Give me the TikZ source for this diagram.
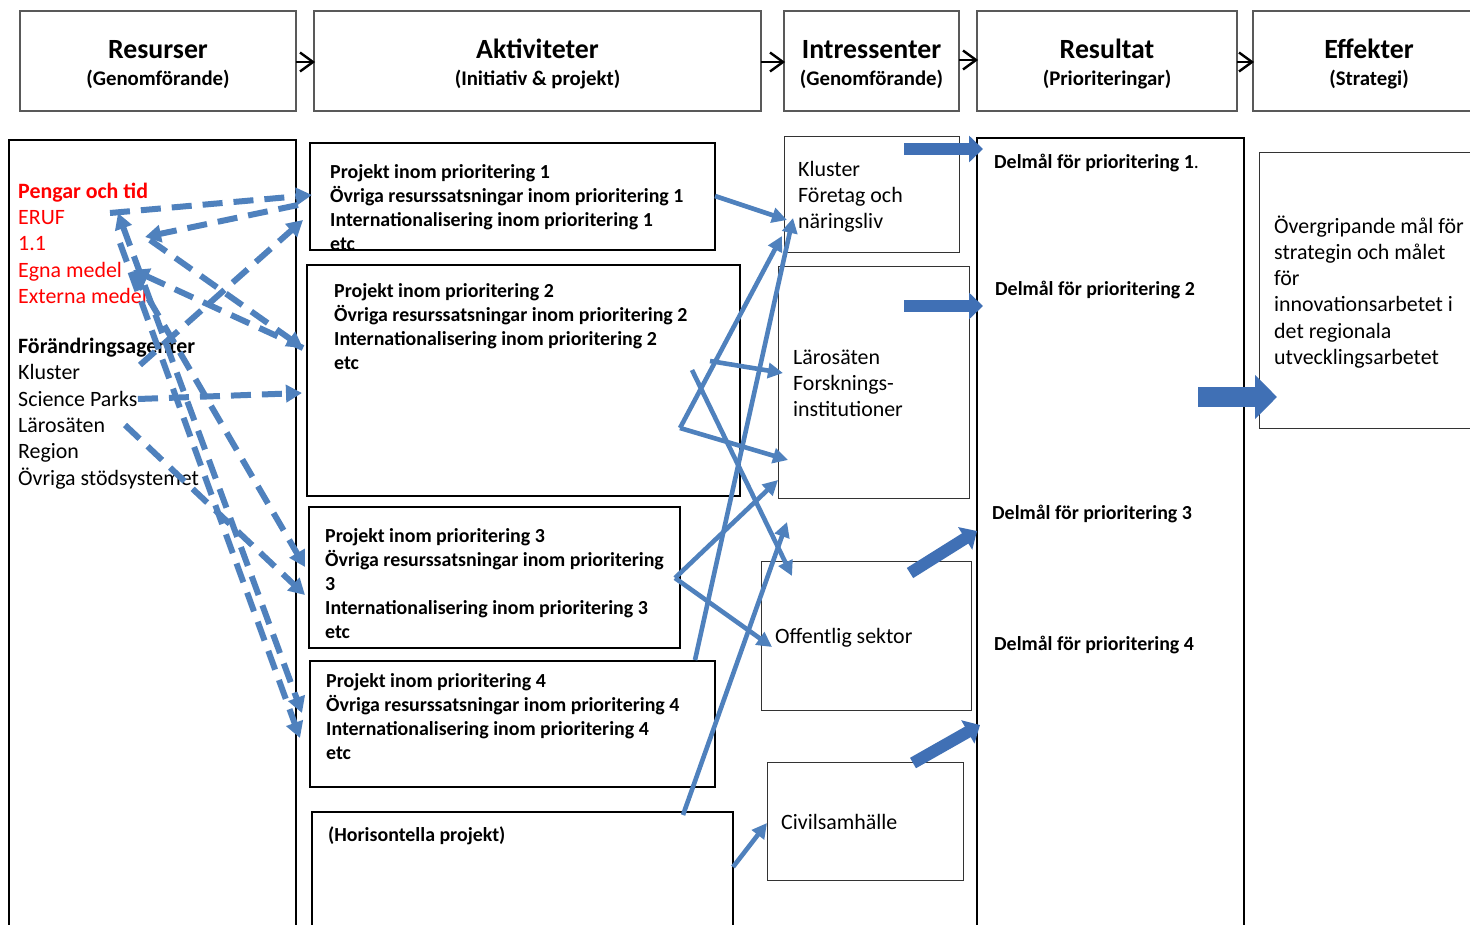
\documentclass[tikz,border=0pt]{standalone}
\usepackage{fontspec}
\setmainfont{Carlito}
\usetikzlibrary{arrows.meta,calc}
\definecolor{lblue}{RGB}{79,129,189}
\definecolor{bblue}{RGB}{64,112,181}
\definecolor{tred}{RGB}{255,0,0}
\begin{document}
\begin{tikzpicture}[x=1pt,y=-1pt,
  hbox/.style={draw=black!65, line width=1.3pt, anchor=north west, inner sep=0, outer sep=0},
  pbox/.style={draw=black, line width=2pt, anchor=north west, inner sep=0, outer sep=0},
  ibox/.style={draw=black!80, line width=1pt, anchor=north west, inner sep=0, outer sep=0},
  htitle/.style={font=\fontsize{27.8}{30}\selectfont\bfseries, anchor=base, inner sep=0},
  hsub/.style={font=\fontsize{20.8}{24}\selectfont\bfseries, anchor=base, inner sep=0},
  lt/.style={font=\fontsize{21.9}{26}\selectfont, anchor=base west, inner sep=0},
  pt/.style={font=\fontsize{19.9}{24}\selectfont\bfseries, anchor=base west, inner sep=0},
  darr/.style={draw=lblue, line width=6pt, dash pattern=on 20pt off 11pt, -{Triangle[length=16pt,width=17pt]}},
  sarr/.style={draw=lblue, line width=4.6pt, -{Triangle[length=15pt,width=15pt]}},
  barr/.style={draw=bblue, line width=12pt, -{Triangle[length=14pt,width=26pt]}},
  hline/.style={draw=black, line width=2.4pt, line join=miter},
]
\useasboundingbox[fill=white] (0,0) rectangle (1470,924);

% header boxes
\node[hbox, minimum width=276pt, minimum height=100pt] (hres) at (20,11) {};
\node[hbox, minimum width=447pt, minimum height=100pt] (hakt) at (314,11) {};
\node[hbox, minimum width=175pt, minimum height=100pt] (hint) at (784,11) {};
\node[hbox, minimum width=260pt, minimum height=100pt] (hrsl) at (977,11) {};
\node[hbox, minimum width=240pt, minimum height=100pt] (heff) at (1253,11) {};

\node[htitle] (t1) at (158,58) {Resurser};
\node[hsub] (s1) at (158,85) {(Genomförande)};
\node[htitle] (t2) at (537.5,58) {Aktiviteter};
\node[hsub] (s2) at (537.5,85) {(Initiativ \& projekt)};
\node[htitle] (t3) at (871.5,58) {Intressenter};
\node[hsub] (s3) at (871.5,85) {(Genomförande)};
\node[htitle] (t4) at (1107,58) {Resultat};
\node[hsub] (s4) at (1107,85) {(Prioriteringar)};
\node[htitle] (t5) at (1369,58) {Effekter};
\node[hsub] (s5) at (1369,85) {(Strategi)};

% header connectors with open chevrons
\coordinate (h1a) at (hres.east |- 0,62);
\coordinate (h1b) at ($(hakt.west |- 0,62)+(-1,0)$);
\coordinate (h2a) at (hakt.east |- 0,62);
\coordinate (h2b) at ($(hint.west |- 0,62)+(-1,0)$);
\coordinate (h3a) at (hint.east |- 0,60);
\coordinate (h3b) at ($(hrsl.west |- 0,60)+(-1,0)$);
\coordinate (h4a) at (hrsl.east |- 0,62);
\coordinate (h4b) at ($(heff.west |- 0,62)+(-1,0)$);
\foreach \a/\b in {h1a/h1b,h2a/h2b,h3a/h3b,h4a/h4b}{
  \draw[hline] (\a) -- (\b);
  \draw[hline] ($(\b)+(-13,-9.5)$) -- (\b) -- ($(\b)+(-13,9.5)$);
}

% main boxes
\node[pbox, minimum width=287pt, minimum height=800pt] (res) at (9,140) {};
\node[pbox, minimum width=405pt, minimum height=107pt] (p1) at (310,143) {};
\node[pbox, minimum width=433pt, minimum height=231pt] (p2) at (307,265) {};
\node[pbox, minimum width=371pt, minimum height=141pt] (p3) at (309,507) {};
\node[pbox, minimum width=405pt, minimum height=126pt] (p4) at (310,661) {};
\node[pbox, minimum width=421pt, minimum height=130pt] (p5) at (312,812) {};
\node[ibox, minimum width=175pt, minimum height=116pt] (i1) at (784,136) {};
\node[ibox, minimum width=191pt, minimum height=232pt] (i2) at (778,266) {};
\node[ibox, minimum width=210pt, minimum height=149pt] (i3) at (761,561) {};
\node[ibox, minimum width=196pt, minimum height=118pt] (i4) at (767,762) {};
\node[pbox, minimum width=267pt, minimum height=800pt] (rsl) at (977,138) {};
\node[ibox, minimum width=230pt, minimum height=276pt] (eff) at (1259,152) {};

% left texts
\node[lt, text=tred, font=\fontsize{21.9}{26}\selectfont\bfseries] (r1) at (18,198) {Pengar och tid};
\node[lt, text=tred] (r2) at (18,224) {ERUF};
\node[lt, text=tred] (r3) at (18,250) {1.1};
\node[lt, text=tred] (r4) at (18,277) {Egna medel};
\node[lt, text=tred] (r5) at (18,303) {Externa medel};
\node[lt, font=\fontsize{21.9}{26}\selectfont\bfseries] (r6) at (18,353) {Förändringsagenter};
\node[lt] (r7) at (18,379) {Kluster};
\node[lt] (r8) at (18,406) {Science Parks};
\node[lt] (r9) at (18,432) {Lärosäten};
\node[lt] (r10) at (18,458) {Region};
\node[lt] (r11) at (18,485) {Övriga stödsystemet};

% project texts
\node[pt] (a11) at (330,178) {Projekt inom prioritering 1};
\node[pt] (a12) at (330,202) {Övriga resurssatsningar inom prioritering 1};
\node[pt] (a13) at (330,226) {Internationalisering inom prioritering 1};
\node[pt] (a14) at (330,250) {etc};
\node[pt] (a21) at (334,297) {Projekt inom prioritering 2};
\node[pt] (a22) at (334,321) {Övriga resurssatsningar inom prioritering 2};
\node[pt] (a23) at (334,345) {Internationalisering inom prioritering 2};
\node[pt] (a24) at (334,369) {etc};
\node[pt] (a31) at (325,542) {Projekt inom prioritering 3};
\node[pt] (a32) at (325,566) {Övriga resurssatsningar inom prioritering};
\node[pt] (a33) at (325,590) {3};
\node[pt] (a34) at (325,614) {Internationalisering inom prioritering 3};
\node[pt] (a35) at (325,638) {etc};
\node[pt] (a41) at (326,687) {Projekt inom prioritering 4};
\node[pt] (a42) at (326,711) {Övriga resurssatsningar inom prioritering 4};
\node[pt] (a43) at (326,735) {Internationalisering inom prioritering 4};
\node[pt] (a44) at (326,759) {etc};
\node[pt] (a51) at (328,841) {(Horisontella projekt)};

% stakeholders
\node[lt] (k1) at (798,176) {Kluster};
\node[lt] (k2) at (798,202) {Företag och};
\node[lt] (k3) at (798,228) {näringsliv};
\node[lt] (l1) at (793,364) {Lärosäten};
\node[lt] (l2) at (793,390) {Forsknings-};
\node[lt] (l3) at (793,416) {institutioner};
\node[lt] (o1) at (775,643) {Offentlig sektor};
\node[lt] (c1) at (781,829) {Civilsamhälle};

% results
\node[pt] (m1) at (994,168) {Delmål för prioritering 1\mdseries.};
\node[pt] (m2) at (995,295) {Delmål för prioritering 2};
\node[pt] (m3) at (992,519) {Delmål för prioritering 3};
\node[pt] (m4) at (994,650) {Delmål för prioritering 4};

% effects
\node[lt] (e1) at (1274,233) {Övergripande mål för};
\node[lt] (e2) at (1274,259) {strategin och målet};
\node[lt] (e3) at (1274,285) {för};
\node[lt] (e4) at (1274,311) {innovationsarbetet i};
\node[lt] (e5) at (1274,338) {det regionala};
\node[lt] (e6) at (1274,364) {utvecklingsarbetet};

% coordinates for dashed connectors
\coordinate (eruf) at (110,213);
\coordinate (erufb) at (118,213);
\coordinate (ett) at (145,237);
\coordinate (ettb) at (150,240);
\coordinate (ettc) at (120,243);
\coordinate (egna) at (133,270);
\coordinate (egnab) at (133,272);
\coordinate (forv) at (140,365);
\coordinate (scip) at (138,399);
\coordinate (laro) at (125,425);
\coordinate (p1a) at (312,195);
\coordinate (p1b) at (298,205);
\coordinate (p1c) at (303,220);
\coordinate (p2a) at (303,348);
\coordinate (p2b) at (302,393);
\coordinate (p3a) at (305,567);
\coordinate (p3b) at (305,595);
\coordinate (p4a) at (302,713);
\coordinate (p4b) at (300,738);

\draw[darr] (eruf) -- (p1a);
\draw[darr] (p1b) -- (ett);
\draw[darr] (ettb) -- (p2a);
\draw[darr, {Triangle[length=16pt,width=17pt]}-] (egna) -- (p2a);
\draw[darr] (forv) -- (p1c);
\draw[darr] (scip) -- (p2b);
\draw[darr] (laro) -- (p3b);
\draw[darr] (egnab) -- (p3a);
\draw[darr, {Triangle[length=16pt,width=17pt]}-{Triangle[length=16pt,width=17pt]}] (erufb) -- (p4a);
\draw[darr] (ettc) -- (p4b);

% coordinates for solid connectors
\coordinate (q1) at (715,196);
\coordinate (q2) at (680,428);
\coordinate (q3) at (710,361);
\coordinate (q4) at (692,370);
\coordinate (q5) at (695,660);
\coordinate (q6) at (675,578);
\coordinate (q7) at (683,815);
\coordinate (q8) at (733,867);
\coordinate (k1a) at (787,220);
\coordinate (k1b) at (782,236);
\coordinate (k1c) at (793,218);
\coordinate (l1a) at (783,373);
\coordinate (l1b) at (788,460);
\coordinate (l1c) at (778,480);
\coordinate (l1d) at (787,522);
\coordinate (o1a) at (792,576);
\coordinate (o1b) at (772,647);
\coordinate (c1a) at (767,823);

\draw[sarr] (q1) -- (k1a);
\draw[sarr] (q2) -- (k1b);
\draw[sarr] (q2) -- (l1b);
\draw[sarr] (q3) -- (l1a);
\draw[sarr] (q4) -- (o1a);
\draw[sarr] (q5) -- (k1c);
\draw[sarr] (q6) -- (l1c);
\draw[sarr] (q6) -- (o1b);
\draw[sarr] (q7) -- (l1d);
\draw[sarr] (q8) -- (c1a);

% block arrows
\coordinate (b1s) at (904,149);
\coordinate (b1e) at (983,149);
\coordinate (b2s) at (904,306);
\coordinate (b2e) at (983,306);
\coordinate (b3s) at (910,573);
\coordinate (b3e) at (977,531);
\coordinate (b4s) at (913,763);
\coordinate (b4e) at (980,725);
\coordinate (b5s) at (1198,397);
\coordinate (b5e) at (1277,397);
\draw[barr] (b1s) -- (b1e);
\draw[barr] (b2s) -- (b2e);
\draw[barr] (b3s) -- (b3e);
\draw[barr] (b4s) -- (b4e);
\draw[draw=bblue, line width=20pt, -{Triangle[length=22pt,width=43pt]}] (b5s) -- (b5e);
\end{tikzpicture}
\end{document}
